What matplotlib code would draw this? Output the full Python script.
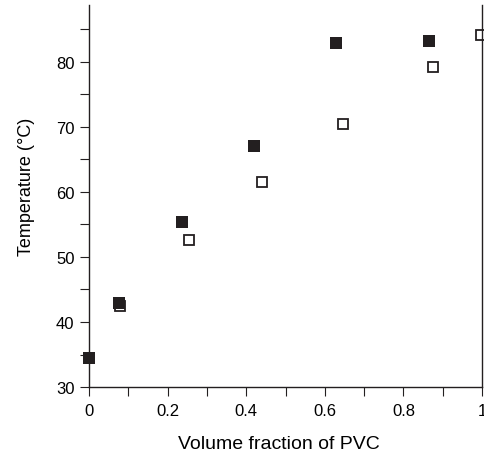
import matplotlib
matplotlib.use('Agg')
import matplotlib.pyplot as plt
from matplotlib.ticker import MultipleLocator

plt.rcParams['font.family'] = ['Liberation Sans', 'DejaVu Sans']

# filled squares
x_filled = [0.0, 0.075, 0.237, 0.419, 0.628, 0.866]
t_filled = [34.5, 42.9, 55.4, 67.0, 82.9, 83.1]
# open squares
x_open = [0.08, 0.254, 0.44, 0.647, 0.875, 0.997]
t_open = [42.4, 52.6, 61.5, 70.4, 79.1, 84.1]

fig = plt.figure(figsize=(4.84, 4.56), dpi=100)
ax = fig.add_axes([0.184, 0.149, 0.812, 0.838])

ax.plot(x_filled, t_filled, 's', color='#231f20', markersize=8, markeredgewidth=0, clip_on=False, zorder=3)
ax.plot(x_open, t_open, 's', markerfacecolor='white', markeredgecolor='#231f20',
        markersize=7, markeredgewidth=1.3, clip_on=False, zorder=2)

ax.set_xlim(0, 1)
ax.set_ylim(30, 88.7)
ax.set_xticks([0, 0.2, 0.4, 0.6, 0.8, 1.0])
ax.set_xticklabels(['0', '0.2', '0.4', '0.6', '0.8', '1'])
ax.xaxis.set_minor_locator(MultipleLocator(0.1))
ax.yaxis.set_major_locator(MultipleLocator(10))
ax.yaxis.set_minor_locator(MultipleLocator(5))

ax.spines['top'].set_visible(False)
for s in ['left', 'bottom', 'right']:
    ax.spines[s].set_linewidth(1.0)
    ax.spines[s].set_color('#231f20')

ax.tick_params(which='both', direction='out', length=6.5, width=0.8, color='#231f20',
               labelsize=12, top=False, right=False)
ax.tick_params(axis='x', pad=5)
ax.tick_params(axis='y', pad=4)

ax.set_xlabel('Volume fraction of PVC', fontsize=14)
ax.set_ylabel('Temperature (°C)', fontsize=13)
ax.xaxis.set_label_coords(0.483, -0.125)
ax.yaxis.set_label_coords(-0.138, 0.527)

fig.savefig('out.png', dpi=100)
